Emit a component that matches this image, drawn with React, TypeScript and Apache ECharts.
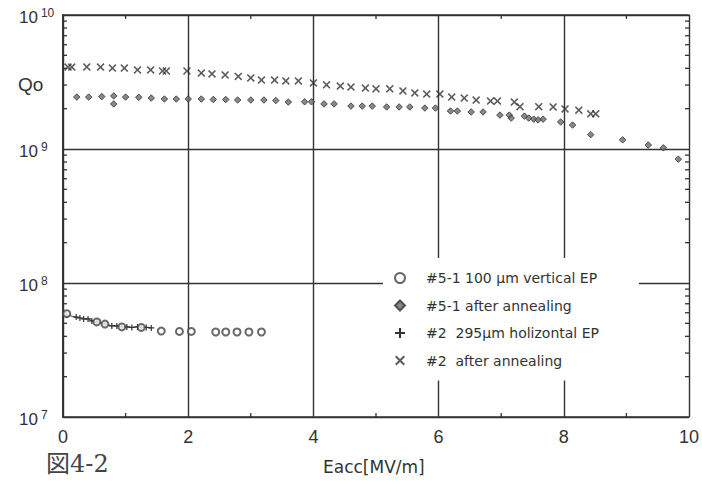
import React, { useEffect, useRef } from "react";
import * as echarts from "echarts";

// Eacc [MV/m] and Q0 for each measurement
const ep51X = [0.06, 0.54, 0.67, 0.94, 1.25, 1.57, 1.86, 2.05, 2.44, 2.6, 2.78, 2.97, 3.17];
const ep51Q = [5.9e7, 5.12e7, 4.94e7, 4.7e7, 4.66e7, 4.38e7, 4.35e7, 4.35e7, 4.31e7, 4.31e7, 4.31e7, 4.31e7, 4.31e7];

const ann51X = [
  0.22, 0.41, 0.62, 0.81, 0.81, 1.0, 1.21, 1.41, 1.62, 1.81, 2.0, 2.21, 2.4, 2.6, 2.79, 3.0, 3.21, 3.4, 3.6,
  3.86, 3.97, 4.17, 4.33, 4.6, 4.78, 4.94, 5.17, 5.37, 5.54, 5.78, 5.95, 6.19, 6.3, 6.52, 6.71, 6.98, 7.13,
  7.16, 7.37, 7.44, 7.52, 7.59, 7.67, 7.95, 8.14, 8.43, 8.94, 9.35, 9.59, 9.83,
];
const ann51Q = [
  2.44e9, 2.44e9, 2.46e9, 2.49e9, 2.17e9, 2.44e9, 2.43e9, 2.4e9, 2.36e9, 2.36e9, 2.36e9, 2.36e9, 2.34e9, 2.34e9,
  2.32e9, 2.32e9, 2.32e9, 2.3e9, 2.24e9, 2.25e9, 2.25e9, 2.17e9, 2.17e9, 2.09e9, 2.09e9, 2.09e9, 2.06e9, 2.06e9,
  2.06e9, 2.02e9, 2.02e9, 1.92e9, 1.92e9, 1.89e9, 1.89e9, 1.79e9, 1.79e9, 1.7e9, 1.76e9, 1.7e9, 1.67e9, 1.65e9,
  1.67e9, 1.59e9, 1.51e9, 1.28e9, 1.17e9, 1.07e9, 1.02e9, 8.4e8,
];

const ep2X = [0.06, 0.21, 0.27, 0.33, 0.4, 0.46, 0.54, 0.67, 0.78, 0.86, 0.94, 1.02, 1.1, 1.19, 1.25, 1.33, 1.41];
const ep2Q = [
  5.77e7, 5.57e7, 5.48e7, 5.39e7, 5.39e7, 5.21e7, 5.12e7, 4.94e7, 4.78e7, 4.78e7, 4.7e7, 4.7e7, 4.66e7, 4.7e7,
  4.66e7, 4.66e7, 4.62e7,
];

const ann2X = [
  0.08, 0.14, 0.38, 0.6, 0.79, 0.98, 1.19, 1.4, 1.59, 1.65, 1.98, 2.21, 2.38, 2.59, 2.8, 3.0, 3.17, 3.38, 3.56,
  3.76, 4.0, 4.21, 4.43, 4.6, 4.83, 5.0, 5.22, 5.43, 5.62, 5.81, 6.02, 6.21, 6.41, 6.6, 6.83, 6.94, 7.21, 7.3,
  7.6, 7.83, 8.02, 8.24, 8.43, 8.51,
];
const ann2Q = [
  4.09e9, 4.09e9, 4.1e9, 4.09e9, 4.02e9, 4.02e9, 3.89e9, 3.89e9, 3.82e9, 3.82e9, 3.82e9, 3.69e9, 3.63e9, 3.57e9,
  3.48e9, 3.39e9, 3.27e9, 3.27e9, 3.22e9, 3.22e9, 3.11e9, 3.01e9, 2.95e9, 2.9e9, 2.85e9, 2.81e9, 2.81e9, 2.71e9,
  2.62e9, 2.57e9, 2.57e9, 2.44e9, 2.4e9, 2.32e9, 2.28e9, 2.28e9, 2.24e9, 2.07e9, 2.07e9, 2.06e9, 1.99e9, 1.95e9,
  1.83e9, 1.83e9,
];

const seriesNames = [
  "#5-1 100 µm vertical EP",
  "#5-1 after annealing",
  "#2  295µm holizontal EP",
  "#2  after annealing",
];

const xTicks = [0, 2, 4, 6, 8, 10];
const xMinorTicks = [1, 3, 5, 7, 9];
const decades = [7, 8, 9];

const pair = (xs: number[], ys: number[]) => xs.map((x, i) => [x, ys[i]]);

const INK = "#333";
const PLUS = "path://M4,0H6V4H10V6H6V10H4V6H0V4H4Z";
const CROSS = "path://M0,1.4L1.4,0L5,3.6L8.6,0L10,1.4L6.4,5L10,8.6L8.6,10L5,6.4L1.4,10L0,8.6L3.6,5Z";

export default function App() {
  const ref = useRef<HTMLDivElement>(null);

  useEffect(() => {
    if (!ref.current) return;
    const chart = echarts.init(ref.current, null, { renderer: "svg" });

    const xAxisCommon = {
      type: "value",
      min: xTicks[0],
      max: xTicks[xTicks.length - 1],
      interval: 2,
      axisLine: { show: true, lineStyle: { color: INK, width: 1.6 } },
      axisTick: { show: false },
    };

    const yAxisCommon = {
      type: "log",
      logBase: 10,
      min: 1e7,
      max: 1e10,
      axisLine: { show: true, lineStyle: { color: INK, width: 1.6 } },
      axisTick: { show: false },
    };

    const texts = [
      {
        type: "text",
        id: "qo",
        left: 18,
        top: 75,
        style: { text: "Qo", fontSize: 19, fontFamily: "Liberation Sans", fill: INK },
      },
      {
        type: "text",
        id: "xname",
        left: 323,
        top: 458,
        style: { text: "Eacc[MV/m]", fontSize: 17, fontFamily: "DejaVu Sans", fill: INK },
      },
      {
        type: "text",
        id: "fig",
        left: 46,
        top: 452,
        style: {
          text: "図4-2",
          fontSize: 24,
          fontFamily: "DejaVu Serif, Noto Sans CJK JP",
          fill: "#444",
        },
      },
    ];

    chart.setOption({
      animation: false,
      backgroundColor: "#fff",
      grid: { left: 63, right: 11, top: 15, bottom: 80 },
      xAxis: [
        {
          ...xAxisCommon,
          position: "bottom",
          axisLabel: {
            show: true,
            margin: 11,
            color: INK,
            fontSize: 18,
            fontFamily: "Liberation Sans",
            showMaxLabel: true,
            showMinLabel: true,
          },
          splitLine: { show: true, lineStyle: { color: INK, width: 1.4 } },
        },
        {
          ...xAxisCommon,
          position: "top",
          axisLabel: { show: false },
          splitLine: { show: false },
        },
      ],
      yAxis: [
        {
          ...yAxisCommon,
          position: "left",
          splitLine: { show: true, lineStyle: { color: INK, width: 1.4 } },
          axisLabel: {
            show: true,
            align: "left",
            margin: 44,
            padding: [4, 0, 0, 0],
            formatter: (v: number) => `{b|10}{s|${Math.round(Math.log10(v))}}`,
            rich: {
              b: { fontSize: 17, fontFamily: "Liberation Sans", color: INK, lineHeight: 20 },
              s: {
                fontSize: 12,
                fontFamily: "Liberation Sans",
                color: INK,
                lineHeight: 12,
                verticalAlign: "top",
                padding: [0, 0, 0, 3],
              },
            },
          },
        },
        {
          ...yAxisCommon,
          position: "right",
          axisLabel: { show: false },
          splitLine: { show: false },
        },
      ],
      legend: {
        orient: "vertical",
        left: 383,
        top: 258,
        backgroundColor: "#fff",
        padding: [13, 40, 13, 11],
        itemWidth: 10,
        itemHeight: 10,
        itemGap: 13.5,
        selectedMode: false,
        textStyle: {
          fontFamily: "DejaVu Sans",
          fontSize: 14,
          lineHeight: 14,
          color: INK,
          padding: [0, 0, 0, 16],
        },
        data: [
          { name: seriesNames[0] },
          { name: seriesNames[1] },
          { name: seriesNames[2], icon: PLUS },
          { name: seriesNames[3], icon: CROSS },
        ],
      },
      graphic: texts,
      series: [
        {
          type: "scatter",
          name: seriesNames[0],
          symbol: "emptyCircle",
          symbolSize: 7,
          itemStyle: { color: "#444", borderColor: "#444", borderWidth: 1.5 },
          data: pair(ep51X, ep51Q),
          z: 4,
        },
        {
          type: "scatter",
          name: seriesNames[1],
          symbol: "diamond",
          symbolSize: 6.5,
          itemStyle: { color: "#6a6a6a", borderColor: "#333", borderWidth: 1 },
          data: pair(ann51X, ann51Q),
        },
        {
          type: "line",
          name: seriesNames[2],
          symbol: PLUS,
          symbolSize: 6,
          showSymbol: true,
          lineStyle: { color: "#444", width: 1 },
          itemStyle: { color: "#333" },
          data: pair(ep2X, ep2Q),
        },
        {
          type: "scatter",
          name: seriesNames[3],
          symbol: CROSS,
          symbolSize: 8,
          itemStyle: { color: "#333" },
          data: pair(ann2X, ann2Q),
        },
      ],
    });

    // inward minor ticks on all four sides, placed through the axes' own scales
    const toPx = (p: number[]) => chart.convertToPixel({ gridIndex: 0 }, p) as number[];
    const xMin = xTicks[0];
    const xMax = xTicks[xTicks.length - 1];
    const tickStyle = { stroke: INK, lineWidth: 1.3 };
    const ticks: any[] = [];
    decades.forEach((n) => {
      for (let k = 2; k <= 9; k++) {
        const q = k * Math.pow(10, n);
        const l = toPx([xMin, q]);
        const r = toPx([xMax, q]);
        ticks.push({ type: "line", shape: { x1: l[0], y1: l[1], x2: l[0] + 4, y2: l[1] }, style: tickStyle });
        ticks.push({ type: "line", shape: { x1: r[0] - 4, y1: r[1], x2: r[0], y2: r[1] }, style: tickStyle });
      }
    });
    xMinorTicks.forEach((x) => {
      const b = toPx([x, 1e7]);
      const t = toPx([x, 1e10]);
      ticks.push({ type: "line", shape: { x1: b[0], y1: b[1], x2: b[0], y2: b[1] - 4 }, style: tickStyle });
      ticks.push({ type: "line", shape: { x1: t[0], y1: t[1], x2: t[0], y2: t[1] + 4 }, style: tickStyle });
    });

    chart.setOption({
      graphic: [...texts, ...ticks],
    });

    return () => chart.dispose();
  }, []);

  return (
    <div
      ref={ref}
      style={{ position: "absolute", left: 0, top: 0, width: 702, height: 497, background: "#fff" }}
    />
  );
}
